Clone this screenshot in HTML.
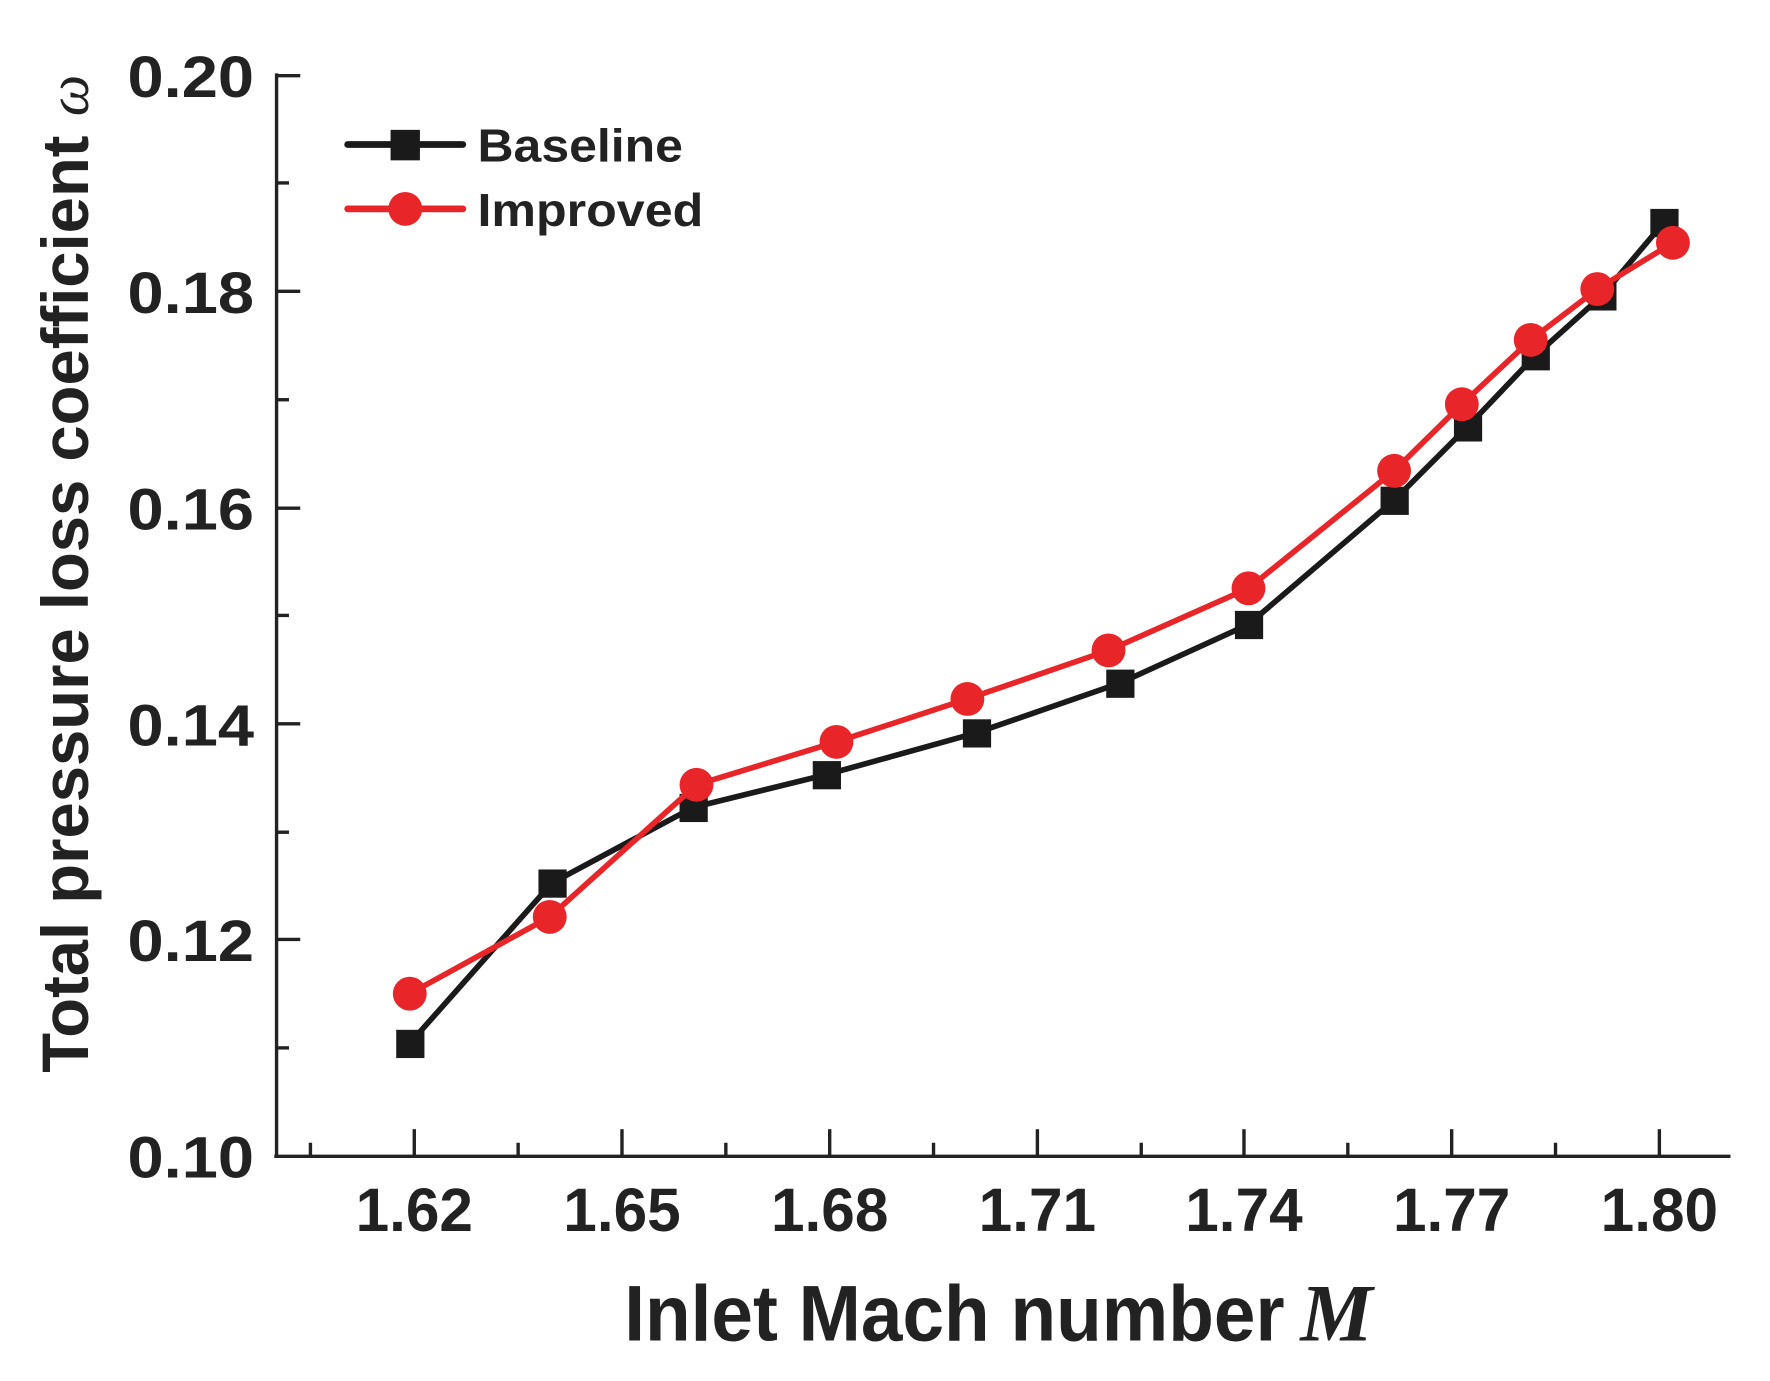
<!DOCTYPE html>
<html><head><style>html,body{margin:0;padding:0;background:#fff}svg{display:block}</style></head>
<body>
<svg width="1770" height="1381" viewBox="0 0 1568 1223" preserveAspectRatio="none" xmlns="http://www.w3.org/2000/svg" font-family="Liberation Sans, Arial, sans-serif" font-weight="bold">
<rect width="1568" height="1223" fill="#fff"/>
<g stroke="#222" stroke-width="3" fill="none">
<line x1="245" y1="65" x2="245" y2="1025"/>
<line x1="243" y1="1024" x2="1533" y2="1024"/>
<line x1="245" y1="67" x2="266" y2="67"/>
<line x1="245" y1="162" x2="256" y2="162"/>
<line x1="245" y1="258" x2="266" y2="258"/>
<line x1="245" y1="354" x2="256" y2="354"/>
<line x1="245" y1="450" x2="266" y2="450"/>
<line x1="245" y1="545" x2="256" y2="545"/>
<line x1="245" y1="641" x2="266" y2="641"/>
<line x1="245" y1="737" x2="256" y2="737"/>
<line x1="245" y1="832" x2="266" y2="832"/>
<line x1="245" y1="928" x2="256" y2="928"/>
<line x1="275" y1="1024" x2="275" y2="1012"/>
<line x1="367" y1="1024" x2="367" y2="1000"/>
<line x1="459" y1="1024" x2="459" y2="1012"/>
<line x1="551" y1="1024" x2="551" y2="1000"/>
<line x1="643" y1="1024" x2="643" y2="1012"/>
<line x1="735" y1="1024" x2="735" y2="1000"/>
<line x1="827" y1="1024" x2="827" y2="1012"/>
<line x1="919" y1="1024" x2="919" y2="1000"/>
<line x1="1011" y1="1024" x2="1011" y2="1012"/>
<line x1="1102" y1="1024" x2="1102" y2="1000"/>
<line x1="1194" y1="1024" x2="1194" y2="1012"/>
<line x1="1286" y1="1024" x2="1286" y2="1000"/>
<line x1="1378" y1="1024" x2="1378" y2="1012"/>
<line x1="1470" y1="1024" x2="1470" y2="1000"/>
</g>
<g font-size="52" fill="#222" text-anchor="end">
<text x="225" y="86" textLength="112" lengthAdjust="spacingAndGlyphs">0.20</text>
<text x="225" y="277" textLength="112" lengthAdjust="spacingAndGlyphs">0.18</text>
<text x="225" y="469" textLength="112" lengthAdjust="spacingAndGlyphs">0.16</text>
<text x="225" y="660" textLength="112" lengthAdjust="spacingAndGlyphs">0.14</text>
<text x="225" y="851" textLength="112" lengthAdjust="spacingAndGlyphs">0.12</text>
<text x="225" y="1043" textLength="112" lengthAdjust="spacingAndGlyphs">0.10</text>
</g>
<g font-size="54" fill="#222" text-anchor="middle">
<text x="367" y="1090" textLength="104" lengthAdjust="spacingAndGlyphs">1.62</text>
<text x="551" y="1090" textLength="104" lengthAdjust="spacingAndGlyphs">1.65</text>
<text x="735" y="1090" textLength="104" lengthAdjust="spacingAndGlyphs">1.68</text>
<text x="919" y="1090" textLength="104" lengthAdjust="spacingAndGlyphs">1.71</text>
<text x="1102" y="1090" textLength="104" lengthAdjust="spacingAndGlyphs">1.74</text>
<text x="1286" y="1090" textLength="104" lengthAdjust="spacingAndGlyphs">1.77</text>
<text x="1470" y="1090" textLength="104" lengthAdjust="spacingAndGlyphs">1.80</text>
</g>
<text x="553" y="1187" font-size="70" fill="#222" textLength="585" lengthAdjust="spacingAndGlyphs">Inlet Mach number</text>
<text x="1152" y="1187" font-size="72" fill="#222" font-family="Liberation Serif, serif" font-style="italic">M</text>
<text transform="translate(78,950) rotate(-90)" font-size="58" fill="#222" textLength="830" lengthAdjust="spacingAndGlyphs">Total pressure loss coefficient</text>
<text transform="translate(78,103) rotate(-90)" font-size="52" fill="#222" font-family="Liberation Serif, serif" font-style="italic" font-weight="normal">ω</text>
<polyline fill="none" stroke="#1a1a1a" stroke-width="5" points="363,924 489,782 614,715 732,686 865,649 992,605 1106,553 1235,443 1300,378 1360,315 1419,262 1474,197"/>
<g fill="#1a1a1a">
<rect x="351" y="912" width="25" height="25"/><rect x="477" y="770" width="25" height="25"/><rect x="602" y="703" width="25" height="25"/><rect x="720" y="674" width="25" height="25"/><rect x="853" y="637" width="25" height="25"/><rect x="980" y="593" width="25" height="25"/><rect x="1094" y="541" width="25" height="25"/><rect x="1223" y="431" width="25" height="25"/><rect x="1288" y="366" width="25" height="25"/><rect x="1348" y="303" width="25" height="25"/><rect x="1407" y="250" width="25" height="25"/><rect x="1462" y="185" width="25" height="25"/>
</g>
<polyline fill="none" stroke="#e8262a" stroke-width="5" points="363,880 487,812 617,695 741,657 857,619 982,576 1106,521 1235,417 1295,358 1356,301 1415,256 1482,215"/>
<g fill="#e8262a">
<circle cx="363" cy="880" r="15"/><circle cx="487" cy="812" r="15"/><circle cx="617" cy="695" r="15"/><circle cx="741" cy="657" r="15"/><circle cx="857" cy="619" r="15"/><circle cx="982" cy="576" r="15"/><circle cx="1106" cy="521" r="15"/><circle cx="1235" cy="417" r="15"/><circle cx="1295" cy="358" r="15"/><circle cx="1356" cy="301" r="15"/><circle cx="1415" cy="256" r="15"/><circle cx="1482" cy="215" r="15"/>
</g>
<line x1="308" y1="128" x2="410" y2="128" stroke="#1a1a1a" stroke-width="6" stroke-linecap="round"/>
<rect x="346" y="115" width="26" height="27" fill="#1a1a1a"/>
<line x1="308" y1="185" x2="410" y2="185" stroke="#e8262a" stroke-width="6" stroke-linecap="round"/>
<circle cx="359" cy="185" r="15" fill="#e8262a"/>
<text x="423" y="143" font-size="41" fill="#222" textLength="182" lengthAdjust="spacingAndGlyphs">Baseline</text>
<text x="423" y="200" font-size="41" fill="#222" textLength="200" lengthAdjust="spacingAndGlyphs">Improved</text>
</svg>
</body></html>
